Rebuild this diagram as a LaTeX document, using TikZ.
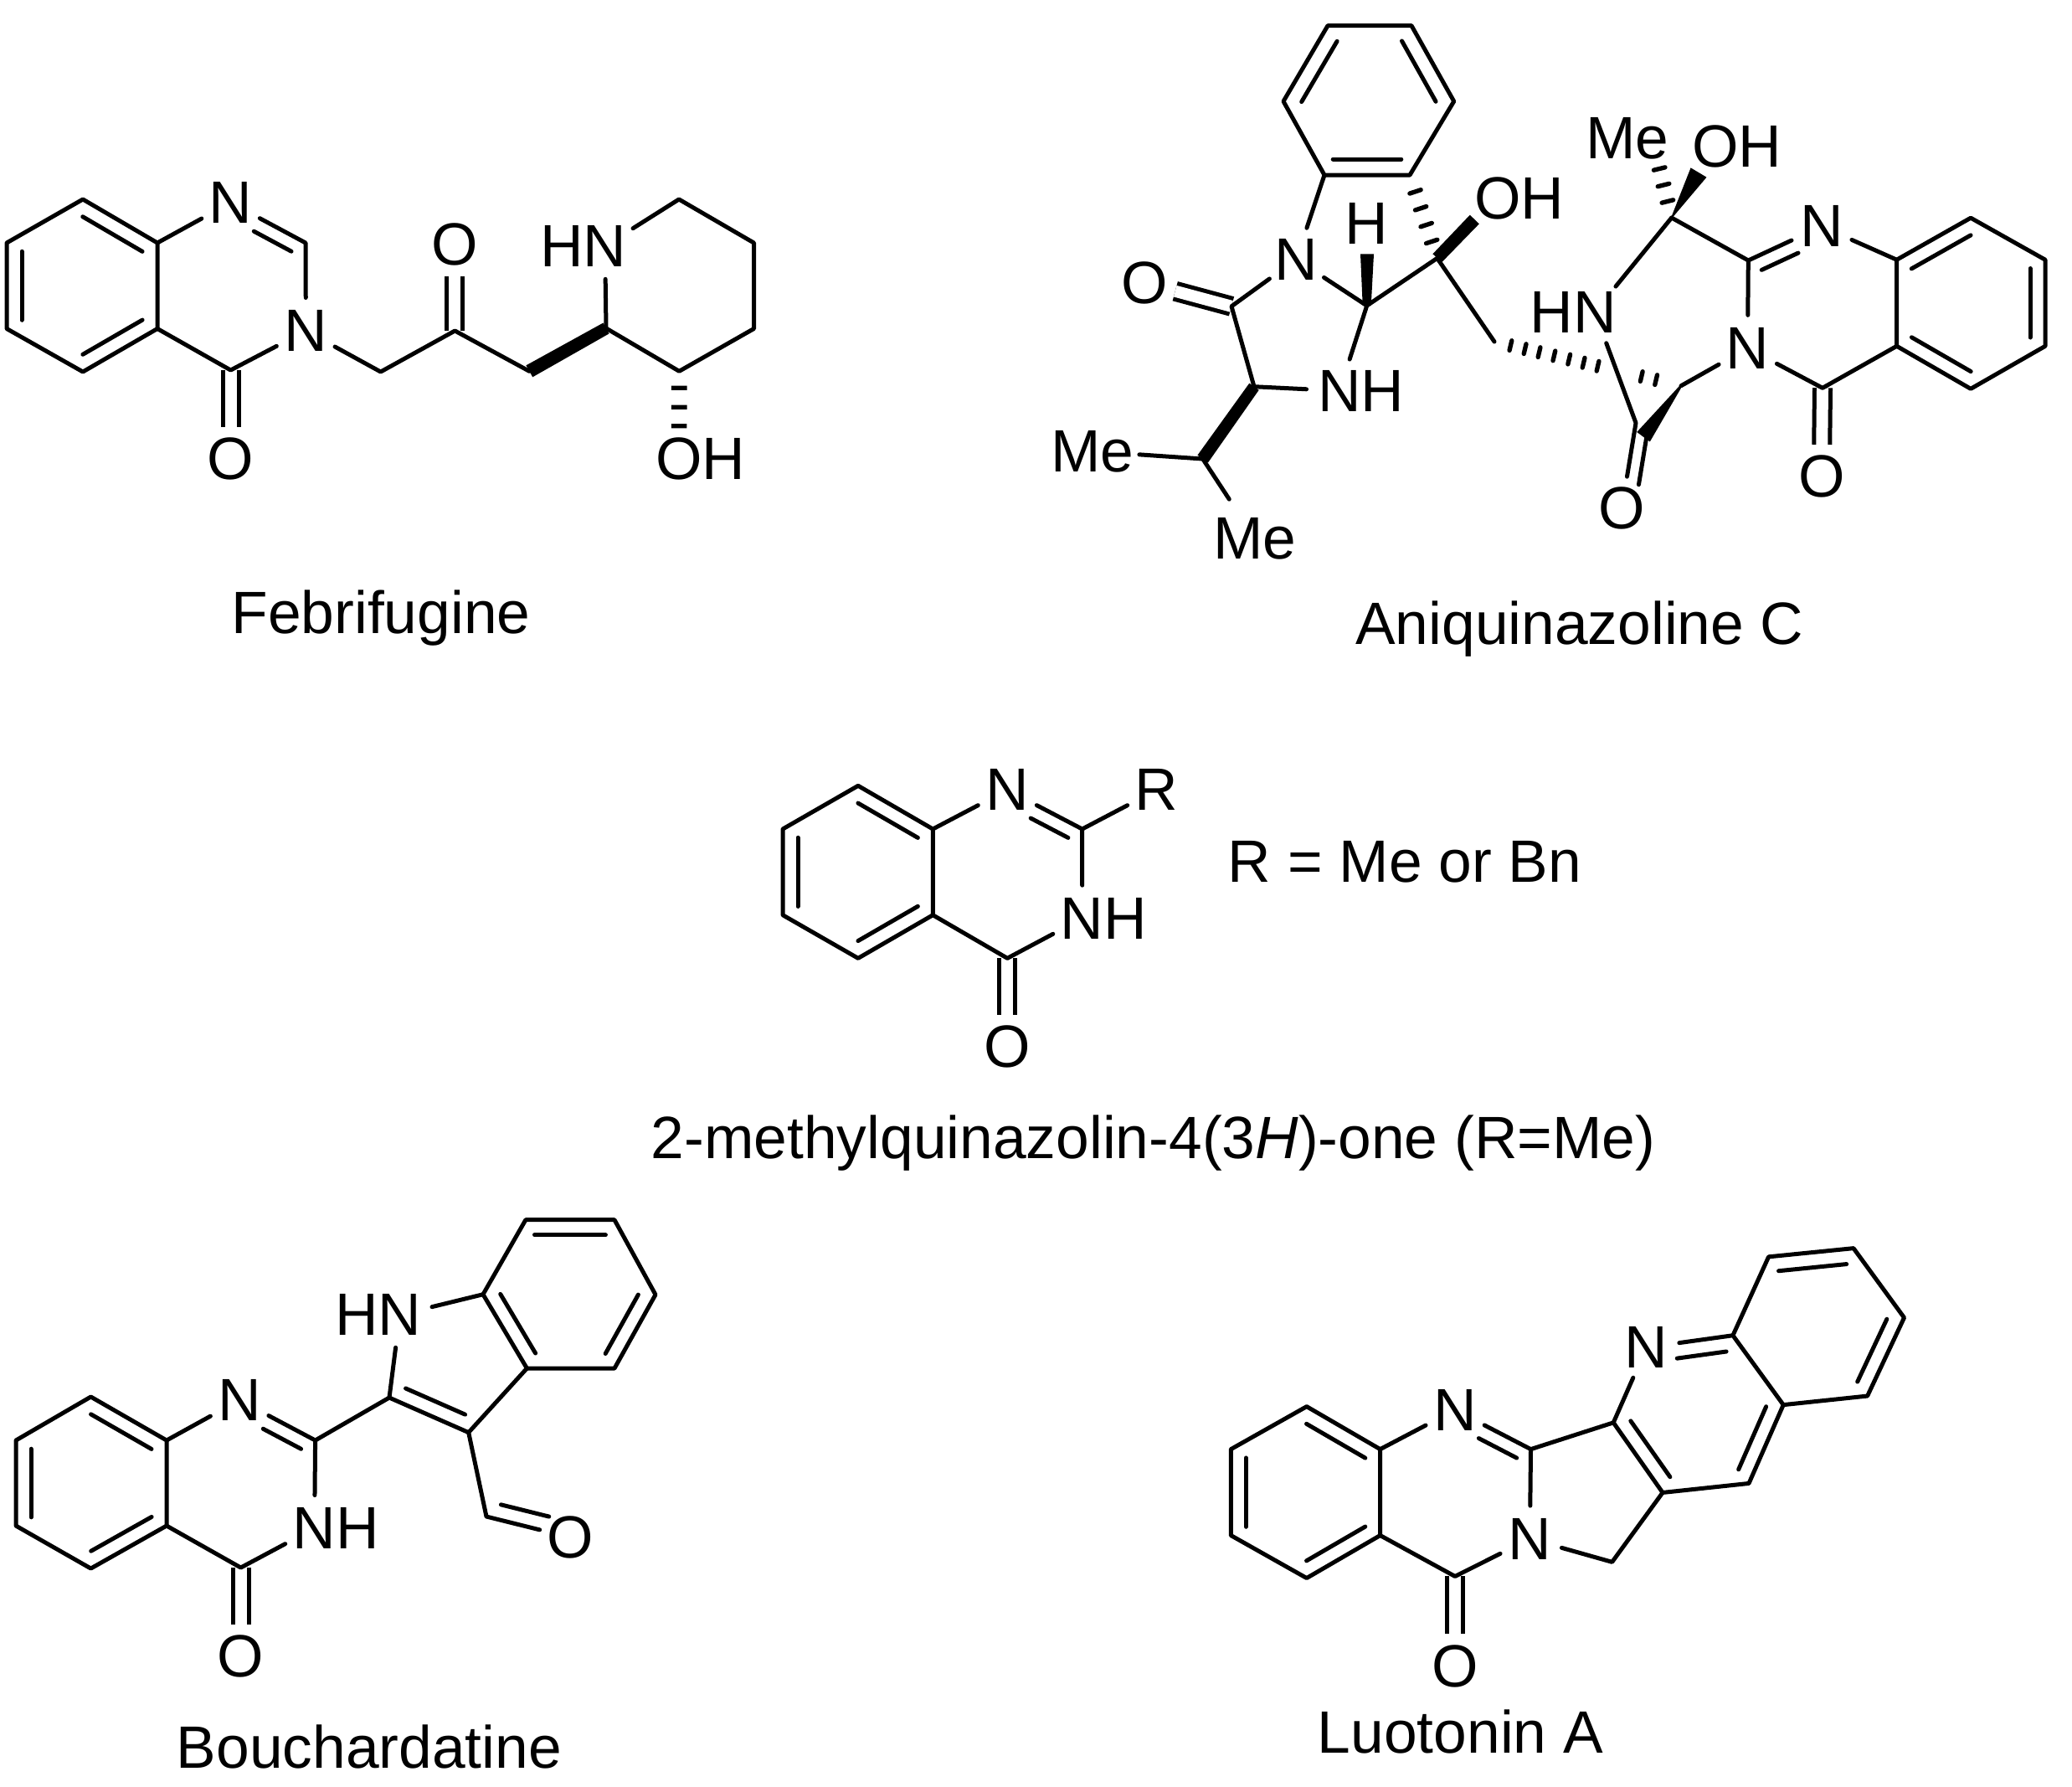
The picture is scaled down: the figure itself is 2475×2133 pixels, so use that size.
\documentclass[tikz,border=0pt]{standalone}
\usepackage{fontspec}
\setmainfont{Liberation Sans}
\usetikzlibrary{calc}
\tikzset{
  bond/.style={line width=1.5pt,line cap=round,line join=round},
  carbonyl/.style={double,double distance=4.2pt,line width=1.5pt},
  atom/.style={circle,inner sep=.7pt,font=\fontsize{21.4}{24}\selectfont},
  oxy/.style={atom,inner sep=0pt},
  methyl/.style={atom,inner sep=0pt},
  title/.style={inner sep=0pt,font=\fontsize{21.4}{24}\selectfont},
  hashsq/.style={line width=1.6pt},
  hashrd/.style={line width=1.6pt,line cap=round}
}
\newcommand\dbl[5]{\draw[bond] ($(#1)!#4!(#2)!#3!90:(#2)$) -- ($(#2)!#5!(#1)!#3!-90:(#1)$);}
\newcommand\wdg[4]{\fill ($(#1)!#3!90:(#2)$) -- ($(#2)!#4!-90:(#1)$) -- ($(#2)!#4!90:(#1)$) -- ($(#1)!#3!-90:(#2)$) -- cycle;}
\newcommand\hsh[5]{\foreach \hT in {#4} \draw[#1] ($(#2)!\hT!(#3)!#5!90:(#3)$) -- ($(#2)!\hT!(#3)!#5!-90:(#3)$);}
\begin{document}
\begin{tikzpicture}[x=.3pt,y=-.3pt]
\useasboundingbox (0,0) rectangle (2475,2133);
\fill[white] (0,0) rectangle (2475,2133);

%% ---------- Febrifugine
\path
 (99,238) coordinate (fa) (188,290) coordinate (fb) (188,392.5) coordinate (fc)
 (99,444) coordinate (fd) (8,392.5) coordinate (fe) (8,290) coordinate (ff)
 (365,290) coordinate (fC2) (275.5,442) coordinate (fC4)
 (454.7,444) coordinate (fCH) (543.4,395) coordinate (fCO) (632.3,443.3) coordinate (fCHb)
 (724,392) coordinate (fP2) (811,238) coordinate (fP6) (900.5,290) coordinate (fP5)
 (900.5,392.5) coordinate (fP4) (811.3,443.3) coordinate (fP3);
\node[atom] (fN1) at (275.5,242) {N};
\node[atom] (fN3) at (365.4,395) {N};
\node[oxy] (fO4) at (275.5,548) {O};
\node[oxy] (fOk) at (543.4,292) {O};
\node[atom] (fNH) at (722.6,293.8) {\llap{H}N};
\node[oxy] (fOH) at (811,548) {O\rlap{H}};
\draw[carbonyl] (fC4) -- (fO4);
\draw[carbonyl] (fCO) -- (fOk);
\draw[bond] (fa) -- (fb) -- (fc) -- (fd) -- (fe) -- (ff) -- cycle;
\draw[bond] (fb) -- (fN1);
\draw[bond] (fN1) -- (fC2) -- (fN3) -- (fC4) -- (fc);
\draw[bond] (fN3) -- (fCH) -- (fCO) -- (fCHb);
\draw[bond] (fP2) -- (fNH) -- (fP6) -- (fP5) -- (fP4) -- (fP3) -- (fP2);
\dbl{fa}{fb}{-5.4pt}{.1}{.1}
\dbl{fc}{fd}{-5.4pt}{.1}{.1}
\dbl{fe}{ff}{-5.4pt}{.1}{.1}
\dbl{fN1}{fC2}{-5.1pt}{.4}{.1}
\wdg{fP2}{fCHb}{2.2pt}{2.4pt}
\hsh{hashsq}{fP3}{fOH}{.19,.41,.625}{2.8pt}
\node[title] (ft) at (455,738) {Febrifugine};

%% ---------- Aniquinazoline C
\path
 (1586,30.6) coordinate (a1) (1686,30.6) coordinate (a2) (1736.7,121) coordinate (a3)
 (1684,209) coordinate (a4) (1582,209) coordinate (a5) (1533,121) coordinate (a6)
 (1632.7,365) coordinate (aC5) (1716.7,308.3) coordinate (aCOH)
 (1498,461.7) coordinate (aCi) (1471,365.8) coordinate (aCO) (1436.7,548) coordinate (aCH)
 (1633,303.3) coordinate (aWH) (1761.3,262) coordinate (aWO)
 (1785,408) coordinate (aCH2) (2008,460.7) coordinate (aR) (1954,505) coordinate (aCO2)
 (1963,521.7) coordinate (aWe) (1996.7,260) coordinate (aCk) (2088.3,311) coordinate (aC2)
 (2265.6,310.2) coordinate (aC8a) (2177,463.3) coordinate (aC4) (2265.6,413.3) coordinate (aC4a)
 (2354,260.2) coordinate (ab1) (2443,310.2) coordinate (ab2) (2443,413.3) coordinate (ab3)
 (2354,464.3) coordinate (ab4) (2029,206) coordinate (aW2) (1977.3,182) coordinate (aHm);
\node[atom] (aN) at (1548.4,309.7) {N};
\node[oxy] (aOk) at (1367,337.8) {O};
\node[atom] (aNH) at (1600,466.7) {N\rlap{H}};
\node[methyl] (aMe1) at (1305,539) {Me};
\node[methyl] (aMe2) at (1499,643) {Me};
\node[atom] (aH) at (1632.7,266.7) {H};
\node[oxy] (aOH) at (1789,237.3) {O\rlap{H}};
\node[atom] (aNH2) at (1905,372.7) {\llap{H}N};
\node[oxy] (aO2) at (1937.3,606.7) {O};
\node[atom] (aN3) at (2087.5,415.8) {N};
\node[atom] (aN1) at (2175.8,270.4) {N};
\node[oxy] (aO4) at (2175.8,568.9) {O};
\node[methyl] (aMe) at (1944,165) {Me};
\node[oxy] (aOH2) at (2049,175) {O\rlap{H}};
\draw[carbonyl] (aCO) -- (aOk);
\draw[carbonyl] (aC4) -- (aO4);
\draw[bond] (a1) -- (a2) -- (a3) -- (a4) -- (a5) -- (a6) -- cycle;
\dbl{a2}{a3}{-5.7pt}{.1}{.1}
\dbl{a4}{a5}{-5.7pt}{.1}{.1}
\dbl{a6}{a1}{-5.7pt}{.1}{.1}
\draw[bond] (a5) -- (aN) -- (aC5) -- (aCOH) -- (aCH2);
\draw[bond] (aC5) -- (aNH) -- (aCi) -- (aCO) -- (aN);
\draw[bond] (aCH) -- (aMe1);
\draw[bond] (aCH) -- (aMe2);
\wdg{aCi}{aCH}{2.1pt}{2.3pt}
\wdg{aC5}{aWH}{1.5pt}{2.4pt}
\wdg{aCOH}{aWO}{2.2pt}{2.3pt}
\hsh{hashrd}{aCOH}{a4}{.2,.4,.6,.8}{2.1pt}
\hsh{hashrd}{aCH2}{aR}{.087,.164,.24,.32,.40,.478,.554,.788,.866}{1.8pt}
\draw[bond] (aCk) -- (aNH2) -- (aCO2) -- (aO2);
\dbl{aCO2}{aO2}{4.6pt}{.1}{.3}
\draw[bond] (aR) -- (aN3) -- (aC2) -- (aCk);
\wdg{aR}{aWe}{.4pt}{2.9pt}
\draw[bond] (aC2) -- (aN1) -- (aC8a);
\dbl{aC2}{aN1}{-5.1pt}{.1}{.4}
\draw[bond] (aN3) -- (aC4) -- (aC4a);
\draw[bond] (aC8a) -- (ab1) -- (ab2) -- (ab3) -- (ab4) -- (aC4a) -- cycle;
\dbl{aC8a}{ab1}{-5.4pt}{.1}{.1}
\dbl{ab2}{ab3}{-5.4pt}{.1}{.1}
\dbl{ab4}{aC4a}{-5.4pt}{.1}{.1}
\wdg{aCk}{aW2}{.2pt}{3.3pt}
\hsh{hashrd}{aCk}{aHm}{.25,.5,.75}{2.1pt}
\node[title] (at) at (1887,751) {Aniquinazoline C};

%% ---------- middle quinazolinone
\path
 (1025,938.3) coordinate (m1) (1114.3,990) coordinate (m2) (1114.3,1092.7) coordinate (m3)
 (1025,1144.3) coordinate (m4) (935,1092.7) coordinate (m5) (935,990) coordinate (m6)
 (1292.7,990) coordinate (mC2) (1203.3,1144.3) coordinate (mC4);
\node[atom] (mN1) at (1203.3,943.3) {N};
\node[atom] (mR) at (1381.7,943.3) {R};
\node[atom] (mNH) at (1292.7,1096.7) {N\rlap{H}};
\node[oxy] (mO) at (1203.3,1250) {O};
\draw[carbonyl] (mC4) -- (mO);
\draw[bond] (m1) -- (m2) -- (m3) -- (m4) -- (m5) -- (m6) -- cycle;
\dbl{m1}{m2}{-5.4pt}{.1}{.1}
\dbl{m3}{m4}{-5.4pt}{.1}{.1}
\dbl{m5}{m6}{-5.4pt}{.1}{.1}
\draw[bond] (m2) -- (mN1) -- (mC2) -- (mNH) -- (mC4) -- (m3);
\draw[bond] (mC2) -- (mR);
\dbl{mN1}{mC2}{-5.1pt}{.4}{.1}
\node[title] (mt1) at (1678,1029) {R = Me or Bn};
\node[title] (mt2) at (1377.6,1365) {2-methylquinazolin-4(3\textit{H})-one (R=Me)};

%% ---------- Bouchardatine
\path
 (108.5,1668) coordinate (b1) (199,1720) coordinate (b2) (199,1822) coordinate (b3)
 (108.5,1873) coordinate (b4) (19,1822) coordinate (b5) (19,1720) coordinate (b6)
 (376.6,1720) coordinate (bC2) (287.6,1872) coordinate (bC4)
 (465,1669) coordinate (bP2) (559.7,1710.6) coordinate (bP3) (629.4,1634) coordinate (bP3a)
 (577,1545.7) coordinate (bP7a) (734,1634) coordinate (bP4) (783,1546) coordinate (bP5)
 (734,1456.7) coordinate (bP6) (627.9,1456.7) coordinate (bP7) (581,1811) coordinate (bCHO);
\node[atom] (bN1) at (286,1672) {N};
\node[atom] (bNH) at (375.6,1825) {N\rlap{H}};
\node[oxy] (bO) at (287.6,1978) {O};
\node[atom] (bHN) at (477.6,1570) {\llap{H}N};
\node[oxy] (bOa) at (681.6,1836) {O};
\draw[carbonyl] (bC4) -- (bO);
\draw[bond] (b1) -- (b2) -- (b3) -- (b4) -- (b5) -- (b6) -- cycle;
\dbl{b1}{b2}{-5.4pt}{.1}{.1}
\dbl{b3}{b4}{-5.4pt}{.1}{.1}
\dbl{b5}{b6}{-5.4pt}{.1}{.1}
\draw[bond] (b2) -- (bN1) -- (bC2) -- (bNH) -- (bC4) -- (b3);
\dbl{bN1}{bC2}{-5.1pt}{.4}{.1}
\draw[bond] (bC2) -- (bP2) -- (bHN) -- (bP7a);
\draw[bond] (bP2) -- (bP3) -- (bP3a) -- (bP7a);
\draw[bond] (bP3a) -- (bP4) -- (bP5) -- (bP6) -- (bP7) -- (bP7a);
\dbl{bP2}{bP3}{5.4pt}{.13}{.12}
\dbl{bP3a}{bP7a}{-5.4pt}{.1}{.1}
\dbl{bP4}{bP5}{5.4pt}{.1}{.1}
\dbl{bP6}{bP7}{5.4pt}{.1}{.1}
\draw[bond] (bP3) -- (bCHO) -- (bOa);
\dbl{bCHO}{bOa}{5.4pt}{.13}{.3}
\node[title] (bt) at (441,2086) {Bouchardatine};

%% ---------- Luotonin A
\path
 (1560.8,1679.6) coordinate (l1) (1648.6,1730.6) coordinate (l2) (1648.6,1833.5) coordinate (l3)
 (1560.8,1884.5) coordinate (l4) (1470.3,1833.5) coordinate (l5) (1470.3,1730.6) coordinate (l6)
 (1828.5,1730.6) coordinate (lC2) (1738,1882.4) coordinate (lC4) (1925.6,1865.3) coordinate (lCH)
 (1986,1782.4) coordinate (lC3) (1927.2,1698.8) coordinate (lC9) (2069.9,1594.7) coordinate (lC)
 (2130.2,1677.6) coordinate (lCx) (2089,1771.4) coordinate (lCy)
 (2112.6,1500.8) coordinate (t1) (2214,1490.6) coordinate (t2) (2274.5,1573.5) coordinate (t3)
 (2230.6,1667) coordinate (t4);
\node[atom] (lN1) at (1738,1683.7) {N};
\node[atom] (lN3) at (1827.4,1837.6) {N};
\node[oxy] (lO) at (1738,1989.4) {O};
\node[atom] (lN) at (1966.7,1609) {N};
\draw[carbonyl] (lC4) -- (lO);
\draw[bond] (l1) -- (l2) -- (l3) -- (l4) -- (l5) -- (l6) -- cycle;
\dbl{l1}{l2}{-5.4pt}{.1}{.1}
\dbl{l3}{l4}{-5.4pt}{.1}{.1}
\dbl{l5}{l6}{-5.4pt}{.1}{.1}
\draw[bond] (l2) -- (lN1) -- (lC2) -- (lN3) -- (lC4) -- (l3);
\dbl{lN1}{lC2}{-5.1pt}{.4}{.1}
\draw[bond] (lC2) -- (lC9) -- (lC3) -- (lCH) -- (lN3);
\dbl{lC9}{lC3}{5.4pt}{.1}{.1}
\draw[bond] (lC9) -- (lN) -- (lC) -- (lCx) -- (lCy) -- (lC3);
\dbl{lN}{lC}{-5.4pt}{.33}{.1}
\dbl{lCx}{lCy}{-5.4pt}{.1}{.1}
\draw[bond] (lC) -- (t1) -- (t2) -- (t3) -- (t4) -- (lCx);
\dbl{t1}{t2}{-5.4pt}{.1}{.1}
\dbl{t3}{t4}{-5.4pt}{.1}{.1}
\node[title] (lt) at (1744.5,2068) {Luotonin A};
\end{tikzpicture}
\end{document}
